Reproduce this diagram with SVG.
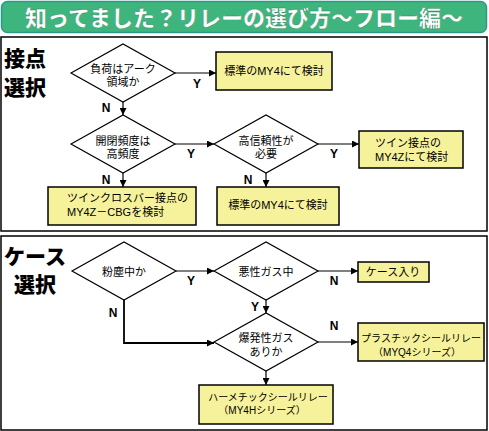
<svg xmlns="http://www.w3.org/2000/svg" width="489" height="431" viewBox="0 0 489 431">
<style>
.t{font-family:"Liberation Sans","Noto Sans CJK JP",sans-serif;font-size:11px;fill:#000}
.s{font-size:10px}
.m{text-anchor:middle}
.yn{font-family:"Liberation Sans",sans-serif;font-size:12px;font-weight:bold;fill:#000;text-anchor:middle}
.sec{font-family:"Noto Sans CJK JP",sans-serif;font-size:21px;font-weight:900;fill:#000}
.d{fill:#fff;stroke:#000;stroke-width:1.2}
.b{fill:#f6f29c;stroke:#000;stroke-width:1.5}
.c{fill:none;stroke:#000;stroke-width:1.2}
</style>
<defs>
<marker id="ah" viewBox="0 0 10 10" refX="10" refY="5" markerWidth="7" markerHeight="7" markerUnits="userSpaceOnUse" orient="auto">
<path d="M0,0 L10,5 L0,10 z" fill="#000"/>
</marker>
</defs>
<rect width="489" height="431" fill="#fff"/>
<g id="title">
<rect x="1.5" y="1.5" width="485" height="31" rx="6" fill="#3db57c" stroke="#2b9a8a" stroke-width="1.5"/>
<text x="244" y="26" text-anchor="middle" font-family="Noto Sans CJK JP,sans-serif" font-size="22" font-weight="900" fill="#fff" stroke="#2a8a60" stroke-width="0.4">知ってました？リレーの選び方～フロー編～</text>
</g>
<g id="panels">
<rect x="1" y="37" width="486" height="194" fill="none" stroke="#000" stroke-width="1.5"/>
<rect x="1" y="236" width="486" height="194" fill="none" stroke="#000" stroke-width="1.5"/>
<text class="sec" x="4" y="66">接点</text>
<text class="sec" x="4" y="95">選択</text>
<text class="sec" x="4" y="264">ケース</text>
<text class="sec" x="14" y="292">選択</text>
</g>
<g id="connectors">
<line class="c" x1="175" y1="73" x2="216" y2="73" marker-end="url(#ah)"/>
<line class="c" x1="123" y1="102" x2="123" y2="115" marker-end="url(#ah)"/>
<line class="c" x1="175" y1="144" x2="214" y2="144" marker-end="url(#ah)"/>
<line class="c" x1="318" y1="144" x2="359" y2="144" marker-end="url(#ah)"/>
<line class="c" x1="123" y1="173" x2="123" y2="187" marker-end="url(#ah)"/>
<line class="c" x1="266" y1="173" x2="266" y2="187" marker-end="url(#ah)"/>
<line class="c" x1="176" y1="271" x2="214" y2="271" marker-end="url(#ah)"/>
<line class="c" x1="318" y1="271" x2="358" y2="271" marker-end="url(#ah)"/>
<line class="c" x1="266" y1="300" x2="266" y2="313" marker-end="url(#ah)"/>
<polyline class="c" style="stroke-width:1.8" points="124,300 124,343 214,343" marker-end="url(#ah)"/>
<line class="c" x1="318" y1="342" x2="358" y2="342" marker-end="url(#ah)"/>
<line class="c" x1="266" y1="371" x2="266" y2="385" marker-end="url(#ah)"/>
<text class="yn" x="197" y="88">Y</text>
<text class="yn" x="106" y="112">N</text>
<text class="yn" x="191" y="158">Y</text>
<text class="yn" x="334" y="158">Y</text>
<text class="yn" x="106" y="184">N</text>
<text class="yn" x="248" y="184">N</text>
<text class="yn" x="191" y="285">Y</text>
<text class="yn" x="334" y="285">N</text>
<text class="yn" x="255" y="311">Y</text>
<text class="yn" x="113" y="317">N</text>
<text class="yn" x="334" y="330">N</text>
</g>
<g id="d1">
<polygon class="d" points="71,73 123,44 175,73 123,102"/>
<text class="t m" x="123" y="73">負荷はアーク</text>
<text class="t m" x="123" y="86">領域か</text>
</g>
<g id="b1">
<rect class="b" x="216" y="52" width="116" height="38"/>
<text class="t m" x="274" y="75">標準のMY4にて検討</text>
</g>
<g id="d2">
<polygon class="d" points="71,144 123,115 175,144 123,173"/>
<text class="t m" x="123" y="145">開閉頻度は</text>
<text class="t m" x="123" y="158">高頻度</text>
</g>
<g id="d3">
<polygon class="d" points="214,144 266,115 318,144 266,173"/>
<text class="t m" x="266" y="145">高信頼性が</text>
<text class="t m" x="266" y="158">必要</text>
</g>
<g id="b3">
<rect class="b" x="359" y="131" width="104" height="37"/>
<text class="t" x="375" y="147">ツイン接点の</text>
<text class="t" x="375" y="161">MY4Zにて検討</text>
</g>
<g id="b2">
<rect class="b" x="48" y="187" width="148" height="38"/>
<text class="t" x="67" y="202">ツインクロスバー接点の</text>
<text class="t" x="67" y="216">MY4Z－CBGを検討</text>
</g>
<g id="b4">
<rect class="b" x="217" y="187" width="122" height="38"/>
<text class="t m" x="278" y="209">標準のMY4にて検討</text>
</g>
<g id="d5">
<polygon class="d" points="72,271 124,242 176,271 124,300"/>
<text class="t m" x="124" y="276">粉塵中か</text>
</g>
<g id="d6">
<polygon class="d" points="214,271 266,242 318,271 266,300"/>
<text class="t m" x="266" y="276">悪性ガス中</text>
</g>
<g id="b5">
<rect class="b" x="358" y="262" width="71" height="20"/>
<text class="t m" x="393" y="276">ケース入り</text>
</g>
<g id="d7">
<polygon class="d" points="214,342 266,313 318,342 266,371"/>
<text class="t m" x="266" y="342">爆発性ガス</text>
<text class="t m" x="266" y="356">ありか</text>
</g>
<g id="b6">
<rect class="b" x="358" y="323" width="126" height="38"/>
<text class="t s m" x="421" y="342">プラスチックシールリレー</text>
<text class="t s m" x="417" y="356">（MYQ4シリーズ）</text>
</g>
<g id="b7">
<rect class="b" x="199" y="385" width="134" height="39"/>
<text class="t s m" x="268" y="401">ハーメチックシールリレー</text>
<text class="t s m" x="262" y="414">（MY4Hシリーズ）</text>
</g>
</svg>
